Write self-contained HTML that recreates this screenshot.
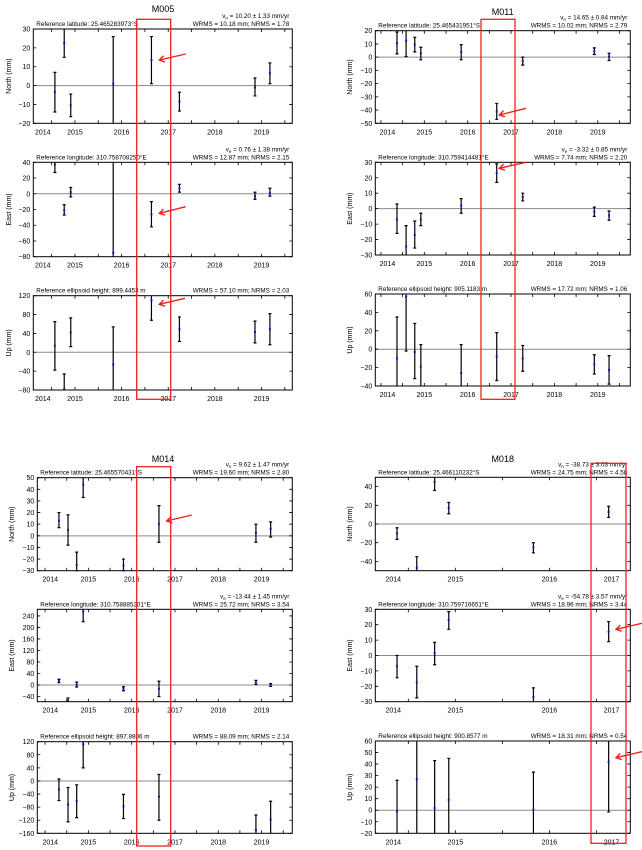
<!DOCTYPE html>
<html><head><meta charset="utf-8">
<style>
html,body{margin:0;padding:0;background:#fff;}
svg{display:block;font-family:"Liberation Sans",sans-serif;}
</style></head>
<body>
<svg id="fig" width="642" height="850" viewBox="0 0 642 850" xmlns="http://www.w3.org/2000/svg"></svg>
<script>
// ---------- DATA ----------
const m005Years = [2014.57, 2014.77, 2014.91, 2015.82, 2016.64, 2017.24, 2018.86, 2019.18];
const m005North = [-3.5, 22.5, -10.5, 1, 13.5, -8.5, -1, 6.5];
const m005NorthLo = [-14, 15, -16.5, -25, 1, -13.5, -5.5, 1];
const m005NorthHi = [7, 32, -4.5, 26, 26, -3.5, 4, 12];
const m005East = [37, -21, 2, -75, -26, 7, -3, 1];
const m005EastLo = [27, -27, -4, -90, -42, 2, -7, -3];
const m005EastHi = [45, -14, 8, 50, -10, 12, 2, 7];
const m005Up = [14, -78, 42, -26, 110, 49, 43, 49];
const m005UpLo = [-38, -95, 12, -90, 68, 23, 20, 16];
const m005UpHi = [65, -46, 73, 54, 130, 75, 66, 82];
const m005Ticks = [2014.31, 2015, 2016, 2017, 2018, 2019];
const m005TickLabels = ["2014", "2015", "2016", "2017", "2018", "2019"];

const m011Years = [2014.37, 2014.58, 2014.78, 2014.92, 2015.85, 2016.67, 2017.27, 2018.92, 2019.26];
const m011North = [10.5, 12.5, 9.5, 3, 4, -41, -3, 4.5, 0.5];
const m011NorthLo = [2.5, 0.5, 4, -2, -2, -47, -6, 2, -2.5];
const m011NorthHi = [19, 22, 15, 7.5, 9.5, -35, 0, 7, 3];
const m011East = [-7, -24.5, -17, -7, 2, 23, 7.5, -2, -4.5];
const m011EastLo = [-16, -32, -25.5, -11, -3, 17, 5, -5, -7.5];
const m011EastHi = [3, -11, -8, -3, 6.5, 29, 10, 1, -1.5];
const m011Up = [-10, 57, -3, -19, -26, -8, -10, -16.5, -22.5];
const m011UpLo = [-45, -2, -32, -45, -45, -34, -24, -27, -38];
const m011UpHi = [35, 65, 28, 5, 5, 18, 4, -6, -7];
const m011Ticks = [2014.15, 2015, 2016, 2017, 2018, 2019];
const m011TickLabels = ["2014", "2015", "2016", "2017", "2018", "2019"];

const m014Years = [2014.32, 2014.53, 2014.73, 2014.88, 2015.81, 2016.63, 2018.87, 2019.21];
const m014North = [13, 5, -25, 44, -25.5, 10, 2.5, 6];
const m014NorthLo = [7, -8, -30, 33, -30, -5.5, -5.5, -1];
const m014NorthHi = [20, 18, -14, 52, -20, 26, 10, 12];
const m014East = [14, -55, 1, 255, -13, -13, 8, 0];
const m014EastLo = [8, -60, -7, 220, -20, -40, 2, -5];
const m014EastHi = [20, -45, 10, 270, -6, 13, 16, 5];
const m014Up = [-26, -72, -61, 112, -78, -48, -150, -118];
const m014UpLo = [-60, -125, -112, 40, -115, -120, -170, -170];
const m014UpHi = [6, -20, -12, 130, -41, 20, -104, -62];
const m014Ticks = [2014.12, 2015, 2016, 2017, 2018, 2019];
const m014TickLabels = ["2014", "2015", "2016", "2017", "2018", "2019"];

const m018Years = [2014.38, 2014.59, 2014.78, 2014.93, 2015.83, 2016.63];
const m018North = [-10, -47, 45, 17, -25, 13];
const m018NorthLo = [-16.5, -55, 36, 11, -31, 7];
const m018NorthHi = [-4, -35, 55, 23, -20, 19];
const m018East = [-7, -17.5, 1.5, 23, -27, 15.5];
const m018EastLo = [-14.5, -27.5, -6, 17, -32, 9];
const m018EastHi = [0, -7, 8.5, 28.5, -21, 22];
const m018Up = [-1, 27, 2, 9, 0.5, 42];
const m018UpLo = [-25, -25, -25, -25, -25, -1.5];
const m018UpHi = [26, 65, 43, 45, 33, 65];
const m018Ticks = [2014.34, 2015, 2016, 2016.66];
const m018TickLabels = ["2014", "2015", "2016", "2017"];

// ---------- RENDER ----------
const NS = "http://www.w3.org/2000/svg";
const svg = document.getElementById("fig");
function mk(tag, attrs, parent) {
  const e = document.createElementNS(NS, tag);
  for (const k in attrs) e.setAttribute(k, attrs[k]);
  (parent || svg).appendChild(e);
  return e;
}
function txt(str, attrs, parent) {
  const t = mk("text", attrs, parent);
  t.textContent = str;
  return t;
}

function panel(p) {
  const g = mk("g", {});
  
  
  const xs = v => p.x0 + (v - p.d0) / (p.d1 - p.d0) * (p.x1 - p.x0);
  const ys = v => p.y1 - (v - p.r0) / (p.r1 - p.r0) * (p.y1 - p.y0);
  const clampY = y => Math.max(p.y0, Math.min(p.y1, y));
  // zero line
  const z = mk("line", {x1: p.x0, x2: p.x1, y1: ys(0), y2: ys(0), stroke: "#8a8a8a", "stroke-width": 1}, g);
  
  
  // x ticks every half year
  for (let t = Math.ceil(p.d0 * 2) / 2; t <= p.d1; t += 0.5) {
    const x = xs(t);
    const tk = mk("path", {d: `M${x},${p.y0}v3M${x},${p.y1}v-3`, stroke: "#000", "stroke-width": 0.8}, g);
    
    
  }
  p.ticks.forEach((t, i) => {
    const lb = txt(p.tickLabels[i], {x: xs(t), y: p.y1 + 11, "font-size": 7, "text-anchor": "middle", fill: "#000"}, g);
    
    
  });
  // y ticks
  for (let v = p.yt0; v <= p.yt1 + 1e-9; v += p.ystep) {
    const y = ys(v);
    const tk = mk("path", {d: `M${p.x0},${y}h3M${p.x1},${y}h-3`, stroke: "#000", "stroke-width": 0.8}, g);
    
    
    const lb = txt(String(v).replace("-", "\u2212"), {x: p.x0 - 3, y: y + 2.5, "font-size": 7, "text-anchor": "end", fill: "#000"}, g);
    
    
  }
  // error bars and points
  p.years.forEach((yr, i) => {
    const x = xs(yr);
    const lo = ys(p.lo[i]), hi = ys(p.hi[i]);
    const cl = clampY(lo), ch = clampY(hi);
    let d = `M${x},${cl}V${ch}`;
    if (lo <= p.y1) d += `M${x - 1.5},${lo}h3`;
    if (hi >= p.y0) d += `M${x - 1.5},${hi}h3`;
    const eb = mk("path", {d: d, stroke: "#000", "stroke-width": 1.2, fill: "none"}, g);
    
    
    const vy = ys(p.vals[i]);
    if (vy >= p.y0 - 1 && vy <= p.y1 + 1) {
      const pt = mk("rect", {x: x - 1, y: clampY(vy) - 1, width: 2, height: 2, fill: "#1010d0"}, g);
      
      
    }
  });
  // frame
  const fr = mk("rect", {x: p.x0, y: p.y0, width: p.x1 - p.x0, height: p.y1 - p.y0, fill: "none", stroke: "#000", "stroke-width": 1}, g);
  
  
  // axis label
  const cy = (p.y0 + p.y1) / 2;
  const al = txt(p.ylabel, {x: p.lx, y: cy, "font-size": 7, "text-anchor": "middle", transform: `rotate(-90 ${p.lx} ${cy})`, fill: "#000"}, g);
  
  
  // headers
  const h1 = txt(p.refText, {x: p.x0 + 3, y: p.y0 - 3, "font-size": 6.3, fill: "#000"}, g);
  
  
  const h2 = txt(p.rmsText, {x: p.x1 - 3, y: p.y0 - 3, "font-size": 6.3, "text-anchor": "end", fill: "#000"}, g);
  
  
  if (p.velText) {
    const h3 = txt("", {x: p.x1 - 3, y: p.y0 - 11, "font-size": 6.3, "text-anchor": "end", fill: "#000"}, g);
    
    
    const a = mk("tspan", {}, h3); a.textContent = "v";
    const b = mk("tspan", {"font-size": 4.5, dy: 1.5}, h3); b.textContent = p.velSub;
    const c = mk("tspan", {dy: -1.5}, h3); c.textContent = " = " + p.velText;
  }
}

function station(s) {
  const t = txt(s.title, {x: s.tx, y: s.ty, "font-size": 9, "text-anchor": "middle", fill: "#000"});
  
  
  s.panels.forEach(pp => panel(Object.assign({x0: s.x0, x1: s.x1, d0: s.d0, d1: s.d1, ticks: s.ticks, tickLabels: s.tickLabels, years: s.years, lx: s.lx}, pp)));
}

station({title: "M005", tx: 163, ty: 12, x0: 33.3, x1: 292.3, d0: 2014.107, d1: 2019.66, lx: 11,
  ticks: m005Ticks, tickLabels: m005TickLabels, years: m005Years,
  panels: [
    {name: "m005-north-panel", y0: 29, y1: 123.3, r0: -20, r1: 30, yt0: -20, yt1: 30, ystep: 10, ylabel: "North (mm)", vals: m005North, lo: m005NorthLo, hi: m005NorthHi,
     refText: "Reference latitude: 25.465283973°S", rmsText: "WRMS = 10.18 mm; NRMS = 1.78", velSub: "n", velText: "10.20 ± 1.33 mm/yr"},
    {name: "m005-east-panel", y0: 162.3, y1: 256.7, r0: -80, r1: 40, yt0: -80, yt1: 40, ystep: 20, ylabel: "East (mm)", vals: m005East, lo: m005EastLo, hi: m005EastHi,
     refText: "Reference longitude: 310.758708250°E", rmsText: "WRMS = 12.87 mm; NRMS = 2.15", velSub: "e", velText: "0.76 ± 1.38 mm/yr"},
    {name: "m005-up-panel", y0: 295.7, y1: 390, r0: -80, r1: 120, yt0: -80, yt1: 120, ystep: 40, ylabel: "Up (mm)", vals: m005Up, lo: m005UpLo, hi: m005UpHi,
     refText: "Reference ellipsoid height: 899.4453 m", rmsText: "WRMS = 57.10 mm; NRMS = 2.03"}
  ]});

station({title: "M011", tx: 502.7, ty: 15, x0: 375.3, x1: 630.3, d0: 2013.87, d1: 2019.75, lx: 352,
  ticks: m011Ticks, tickLabels: m011TickLabels, years: m011Years,
  panels: [
    {name: "m011-north-panel", y0: 30.7, y1: 123.3, r0: -50, r1: 20, yt0: -50, yt1: 20, ystep: 10, ylabel: "North (mm)", vals: m011North, lo: m011NorthLo, hi: m011NorthHi,
     refText: "Reference latitude: 25.465431951°S", rmsText: "WRMS = 10.02 mm; NRMS = 2.79", velSub: "n", velText: "14.65 ± 0.84 mm/yr"},
    {name: "m011-east-panel", y0: 162.3, y1: 255, r0: -30, r1: 30, yt0: -30, yt1: 30, ystep: 10, ylabel: "East (mm)", vals: m011East, lo: m011EastLo, hi: m011EastHi,
     refText: "Reference longitude: 310.759414481°E", rmsText: "WRMS = 7.74 mm; NRMS = 2.20", velSub: "e", velText: "-3.32 ± 0.85 mm/yr"},
    {name: "m011-up-panel", y0: 294, y1: 386, r0: -40, r1: 60, yt0: -40, yt1: 60, ystep: 20, ylabel: "Up (mm)", vals: m011Up, lo: m011UpLo, hi: m011UpHi,
     refText: "Reference ellipsoid height: 905.1183 m", rmsText: "WRMS = 17.72 mm; NRMS = 1.06"}
  ]});

station({title: "M014", tx: 163, ty: 462, x0: 37.3, x1: 292.3, d0: 2013.82, d1: 2019.71, lx: 14,
  ticks: m014Ticks, tickLabels: m014TickLabels, years: m014Years,
  panels: [
    {name: "m014-north-panel", y0: 477.7, y1: 570.7, r0: -30, r1: 50, yt0: -30, yt1: 50, ystep: 10, ylabel: "North (mm)", vals: m014North, lo: m014NorthLo, hi: m014NorthHi,
     refText: "Reference latitude: 25.465570431°S", rmsText: "WRMS = 19.60 mm; NRMS = 2.80", velSub: "n", velText: "9.62 ± 1.47 mm/yr"},
    {name: "m014-east-panel", y0: 609.3, y1: 701.7, r0: -58, r1: 263, yt0: -40, yt1: 240, ystep: 40, ylabel: "East (mm)", vals: m014East, lo: m014EastLo, hi: m014EastHi,
     refText: "Reference longitude: 310.758885201°E", rmsText: "WRMS = 25.72 mm; NRMS = 3.54", velSub: "e", velText: "-13.44 ± 1.45 mm/yr"},
    {name: "m014-up-panel", y0: 741.7, y1: 833.3, r0: -160, r1: 120, yt0: -160, yt1: 120, ystep: 40, ylabel: "Up (mm)", vals: m014Up, lo: m014UpLo, hi: m014UpHi,
     refText: "Reference ellipsoid height: 897.8806 m", rmsText: "WRMS = 88.09 mm; NRMS = 2.14"}
  ]});

station({title: "M018", tx: 502.7, ty: 462, x0: 375.3, x1: 630.3, d0: 2014.149, d1: 2016.86, lx: 352,
  ticks: m018Ticks, tickLabels: m018TickLabels, years: m018Years,
  panels: [
    {name: "m018-north-panel", y0: 477.3, y1: 570.7, r0: -50, r1: 50, yt0: -40, yt1: 40, ystep: 20, ylabel: "North (mm)", vals: m018North, lo: m018NorthLo, hi: m018NorthHi,
     refText: "Reference latitude: 25.466110232°S", rmsText: "WRMS = 24.75 mm; NRMS = 4.58", velSub: "n", velText: "-38.73 ± 3.03 mm/yr"},
    {name: "m018-east-panel", y0: 609.3, y1: 701.7, r0: -30, r1: 30, yt0: -30, yt1: 30, ystep: 10, ylabel: "East (mm)", vals: m018East, lo: m018EastLo, hi: m018EastHi,
     refText: "Reference longitude: 310.759716651°E", rmsText: "WRMS = 18.96 mm; NRMS = 3.44", velSub: "e", velText: "-54.78 ± 3.57 mm/yr"},
    {name: "m018-up-panel", y0: 741, y1: 833.3, r0: -20, r1: 60, yt0: -20, yt1: 60, ystep: 10, ylabel: "Up (mm)", vals: m018Up, lo: m018UpLo, hi: m018UpHi,
     refText: "Reference ellipsoid height: 900.8577 m", rmsText: "WRMS = 18.31 mm; NRMS = 0.54"}
  ]});

// ---------- RED ANNOTATIONS ----------
const hl = [[136.7, 19.3, 170.7, 399.3], [481, 19.3, 515, 399.3], [136.7, 466.7, 170.7, 846], [591, 463.3, 626, 843.3]];
hl.forEach(r => {
  const e = mk("rect", {x: r[0], y: r[1], width: r[2] - r[0], height: r[3] - r[1], fill: "none", stroke: "#f02020", "stroke-width": 1.3});
  
  
});
const arrows = [[185.7, 54, 159.3, 60], [185.7, 206.7, 159.3, 213.3], [185, 298.3, 159.3, 304.3],
  [526, 108.3, 499.3, 115], [526, 162.3, 499.3, 168.3], [191.7, 515, 166.7, 521],
  [642, 623.3, 616, 629.3], [642, 751.7, 616, 757.7]];
arrows.forEach(a => {
  const ang = Math.atan2(a[1] - a[3], a[0] - a[2]);
  const L = 6, s = 0.55;
  const p1 = [a[2] + L * Math.cos(ang + s), a[3] + L * Math.sin(ang + s)];
  const p2 = [a[2] + L * Math.cos(ang - s), a[3] + L * Math.sin(ang - s)];
  const e = mk("path", {d: `M${a[0]},${a[1]}L${a[2]},${a[3]}M${p1[0]},${p1[1]}L${a[2]},${a[3]}L${p2[0]},${p2[1]}`, fill: "none", stroke: "#f02020", "stroke-width": 1.4});
  
  
});
</script>
</body></html>
